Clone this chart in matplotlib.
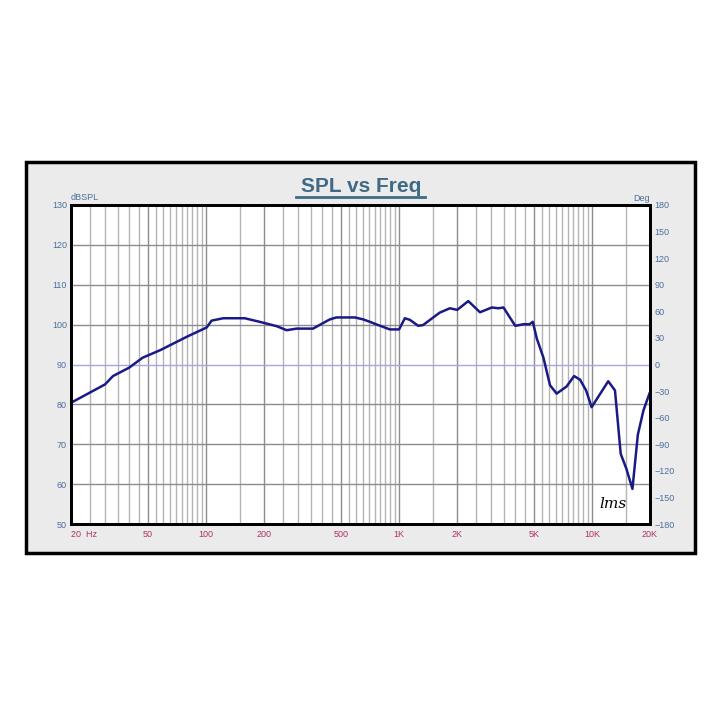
import numpy as np
import matplotlib.pyplot as plt
from matplotlib.patches import Rectangle

# SPL response
freq = [20, 30, 33, 40, 47, 58, 80, 101, 107, 123, 159, 190, 233, 262, 295, 359,
        438, 474, 592, 654, 708, 760, 898, 1002, 1074, 1140, 1259, 1335, 1626,
        1837, 2005, 2288, 2632, 3030, 3278, 3482, 4008, 4431, 4746, 4940, 5183,
        5610, 6066, 6566, 7400, 8083, 8680, 9330, 9965, 12150, 13170, 14100,
        15100, 16220, 17300, 18500, 19860]
spl = [80.4, 85.0, 87.1, 89.2, 91.7, 93.6, 97.0, 99.3, 101.0, 101.6, 101.6, 100.7,
       99.6, 98.6, 99.0, 99.0, 101.3, 101.8, 101.8, 101.3, 100.7, 100.1, 98.8, 98.8,
       101.6, 101.2, 99.7, 99.9, 103.0, 104.1, 103.7, 105.9, 103.1, 104.3, 104.1,
       104.3, 99.7, 100.1, 100.1, 100.7, 96.5, 91.7, 84.8, 82.7, 84.5, 87.1, 86.2,
       83.5, 79.3, 85.8, 83.5, 67.6, 63.8, 58.8, 72.4, 78.5, 82.7]

x_ticks = [20, 50, 100, 200, 500, 1000, 2000, 5000, 10000, 20000]
x_labels = ['20  Hz', '50', '100', '200', '500', '1K', '2K', '5K', '10K', '20K']
db_ticks = list(range(50, 131, 10))
deg_ticks = list(range(-180, 181, 30))

blue_txt = '#4a6f9c'
red_txt = '#b0306a'
plt.rcParams['font.family'] = ['Liberation Sans', 'DejaVu Sans']

fig = plt.figure(figsize=(7.23, 7.27), dpi=100)
W, H = 723, 727

# grey panel with black frame
fig.patches.append(Rectangle((26 / W, 1 - 553 / H), (695 - 26) / W, (553 - 162) / H,
                             transform=fig.transFigure, facecolor='#ebebeb',
                             edgecolor='black', linewidth=2.5, zorder=-5))

ax = fig.add_axes([71 / W, 1 - 524 / H, 579 / W, 319 / H])
ax.set_facecolor('white')
ax.set_xscale('log')
ax.set_xlim(20, 20000)
ax.set_ylim(50, 130)

# vertical grid: 2, 2.5, 3 ... 9.5 times each decade
for dec in [10, 100, 1000, 10000]:
    for k in range(2, 20):
        f = k * 0.5 * dec
        if f <= 20 or f >= 20000:
            continue
        c = '#8c8c8c' if f in x_ticks else '#b4b4b4'
        ax.axvline(f, color=c, lw=1.0, zorder=1)
for d in db_ticks[1:-1]:
    c = '#a6a6e6' if d == 90 else '#8c8c8c'
    ax.axhline(d, color=c, lw=1.0, zorder=1)

ax.plot(freq, spl, color='#1a1a86', lw=1.8, zorder=3)

ax.set_xticks(x_ticks)
ax.set_xticklabels(x_labels)
ax.xaxis.set_minor_locator(plt.NullLocator())
ax.set_yticks(db_ticks)
ax.tick_params(axis='x', length=0, labelsize=6.5, labelcolor=red_txt, pad=4)
ax.tick_params(axis='y', length=0, labelsize=6.5, labelcolor=blue_txt, pad=3)
ax.get_xticklabels()[0].set_horizontalalignment('left')
for sp in ax.spines.values():
    sp.set_linewidth(2)
    sp.set_color('black')

ax2 = ax.twinx()
ax2.set_ylim(-180, 180)
ax2.set_yticks(deg_ticks)
ax2.tick_params(axis='y', length=0, labelsize=6.5, labelcolor=blue_txt, pad=3)
for sp in ax2.spines.values():
    sp.set_linewidth(2)

ax.text(0.0, 1.01, 'dBSPL', transform=ax.transAxes, fontsize=6.5, color=blue_txt,
        ha='left', va='bottom')
ax.text(1.0, 1.005, 'Deg', transform=ax.transAxes, fontsize=6.5, color=blue_txt,
        ha='right', va='bottom')
ax.text(0.96, 0.04, 'lms', transform=ax.transAxes, fontsize=11, style='italic',
        family='DejaVu Serif', ha='right', va='bottom', zorder=4)

fig.text(0.5, 1 - 187 / H, 'SPL vs Freq', ha='center', va='center', fontsize=15,
         fontweight='bold', color='#3e6a86')
fig.add_artist(plt.Line2D([296 / W, 425 / W], [1 - 197 / H, 1 - 197 / H],
                          color='#3e6a86', lw=2))

fig.savefig('out.png', dpi=100, facecolor='white')
